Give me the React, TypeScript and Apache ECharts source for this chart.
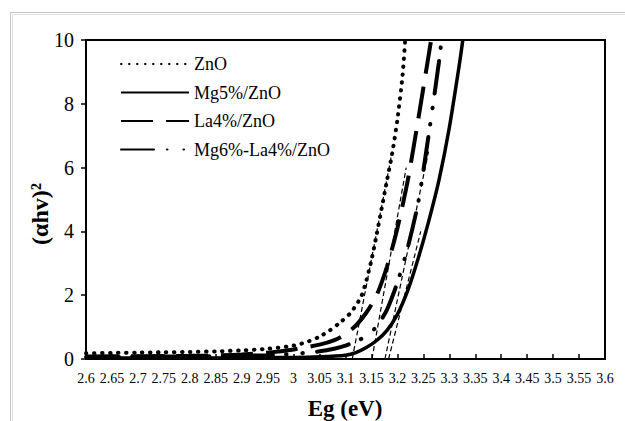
import React, { useEffect, useRef } from "react";
import * as echarts from "echarts";

const seriesNames = ["ZnO", "Mg5%/ZnO", "La4%/ZnO", "Mg6%-La4%/ZnO"];

const znoE = [2.6, 2.65, 2.7, 2.75, 2.8, 2.85, 2.9, 2.95, 3.0, 3.03, 3.05, 3.07, 3.09, 3.11, 3.13, 3.14, 3.15, 3.16, 3.17, 3.18, 3.19, 3.2, 3.21, 3.215];
const znoV = [0.18, 0.19, 0.2, 0.21, 0.22, 0.24, 0.27, 0.32, 0.42, 0.56, 0.7, 0.9, 1.15, 1.45, 1.95, 2.45, 3.1, 3.9, 4.75, 5.6, 6.45, 7.5, 8.9, 10];

const mg5E = [2.6, 2.7, 2.8, 2.9, 3.0, 3.05, 3.1, 3.12, 3.14, 3.16, 3.18, 3.2, 3.22, 3.24, 3.26, 3.28, 3.3, 3.32, 3.326];
const mg5V = [0.03, 0.03, 0.03, 0.04, 0.05, 0.07, 0.12, 0.2, 0.36, 0.58, 0.9, 1.4, 2.15, 3.15, 4.3, 5.6, 7.25, 9.3, 10];

const la4E = [2.6, 2.7, 2.8, 2.85, 2.9, 2.95, 3.0, 3.05, 3.08, 3.1, 3.12, 3.14, 3.16, 3.18, 3.2, 3.22, 3.24, 3.26, 3.265];
const la4V = [0.08, 0.09, 0.1, 0.11, 0.14, 0.2, 0.3, 0.45, 0.6, 0.78, 1.05, 1.45, 2.0, 2.9, 4.1, 5.6, 7.5, 9.5, 10];

const mgLaE = [2.6, 2.7, 2.8, 2.9, 2.95, 3.0, 3.05, 3.08, 3.1, 3.12, 3.14, 3.16, 3.18, 3.2, 3.22, 3.24, 3.26, 3.28, 3.285];
const mgLaV = [0.06, 0.07, 0.08, 0.1, 0.12, 0.16, 0.24, 0.33, 0.42, 0.55, 0.72, 1.02, 1.55, 2.4, 3.5, 4.9, 7.0, 9.3, 10];

// thin dashed extrapolation (tangent) lines: [E at zero, E at end, value at end]
const tangentStartE = [3.113, 3.151, 3.176, 3.183];
const tangentEndE = [3.19, 3.217, 3.26, 3.245];
const tangentEndV = [6.5, 6, 6.5, 4];

const xTicks = { min: 2.6, max: 3.6, step: 0.05 };
const yTicks = { min: 0, max: 10, step: 2 };

const zip = (xs: number[], ys: number[]) => xs.map((x, i) => [x, ys[i]]);

const FONT = "'Liberation Serif', 'Times New Roman', serif";

export default function App() {
  const ref = useRef<HTMLDivElement>(null);
  useEffect(() => {
    if (!ref.current) return;
    const chart = echarts.init(ref.current, undefined, { renderer: "svg" });
    const mainStyles = [
      { type: [0.5, 7.5], width: 4, cap: "round" },
      { type: "solid", width: 3.5, cap: "butt" },
      { type: [32, 13], width: 4, cap: "butt" },
      { type: [33, 13, 0.5, 16, 0.5, 14], width: 4, cap: "round" },
    ];
    const mainData = [zip(znoE, znoV), zip(mg5E, mg5V), zip(la4E, la4V), zip(mgLaE, mgLaV)];
    const series: any[] = seriesNames.map((name, i) => ({
      name,
      type: "line",
      data: mainData[i],
      symbol: "none",
      smooth: 0.25,
      color: "#000",
      itemStyle: { color: "#000" },
      lineStyle: { color: "#000", ...mainStyles[i] },
      z: 3,
    }));
    tangentStartE.forEach((e0, i) => {
      series.push({
        name: "tangent" + i,
        type: "line",
        data: [
          [e0, 0],
          [tangentEndE[i], tangentEndV[i]],
        ],
        symbol: "none",
        lineStyle: { color: "#000", width: 1.2, type: [5, 3] },
        z: 2,
      });
    });
    chart.setOption({
      animation: false,
      backgroundColor: "#fff",
      grid: {
        left: 86,
        top: 40,
        right: 20,
        bottom: 62,
        show: true,
        borderColor: "#000",
        borderWidth: 2,
        backgroundColor: "transparent",
      },
      legend: {
        data: seriesNames,
        orient: "vertical",
        left: 115,
        top: 50,
        itemWidth: 68,
        itemHeight: 14,
        itemGap: 10.5,
        itemStyle: { opacity: 0 },
        textStyle: { fontFamily: FONT, fontSize: 18, color: "#000" },
        selectedMode: false,
      },
      xAxis: {
        type: "value",
        min: xTicks.min,
        max: xTicks.max,
        interval: xTicks.step,
        axisLine: { show: true, lineStyle: { color: "#000", width: 2 } },
        axisTick: { show: true, inside: true, length: 5, lineStyle: { color: "#000", width: 1.5 } },
        axisLabel: {
          fontFamily: FONT,
          fontSize: 14,
          color: "#000",
          margin: 12,
          formatter: (v: number) => String(parseFloat(v.toFixed(2))),
        },
        splitLine: { show: false },
      },
      yAxis: {
        type: "value",
        min: yTicks.min,
        max: yTicks.max,
        interval: yTicks.step,
        axisLine: { show: true, lineStyle: { color: "#000", width: 2 } },
        axisTick: { show: true, inside: false, length: 5, lineStyle: { color: "#000", width: 1.5 } },
        axisLabel: { fontFamily: FONT, fontSize: 20, color: "#000", margin: 12 },
        splitLine: { show: false },
      },
      graphic: [
        {
          type: "rect",
          shape: { x: 10.5, y: 12.5, width: 700, height: 500 },
          style: { fill: "none", stroke: "#c4c4c4", lineWidth: 1 },
          silent: true,
        },
        {
          type: "rect",
          shape: { x: 12.5, y: 14.5, width: 700, height: 500 },
          style: { fill: "none", stroke: "#e2e2e2", lineWidth: 1 },
          silent: true,
        },
        {
          type: "text",
          x: 345,
          y: 408,
          style: {
            text: "Eg (eV)",
            fontFamily: FONT,
            fontSize: 23,
            fontWeight: "bold",
            fill: "#000",
            align: "center",
            verticalAlign: "middle",
          },
        },
        {
          type: "text",
          x: 40,
          y: 214,
          rotation: Math.PI / 2,
          style: {
            text: "(αhv)²",
            fontFamily: FONT,
            fontSize: 24,
            fontWeight: "bold",
            fill: "#000",
            align: "center",
            verticalAlign: "middle",
          },
        },
      ],
      series,
    });
    return () => chart.dispose();
  }, []);
  return (
    <div
      ref={ref}
      style={{ position: "fixed", left: 0, top: 0, width: 625, height: 421, background: "#fff" }}
    />
  );
}
